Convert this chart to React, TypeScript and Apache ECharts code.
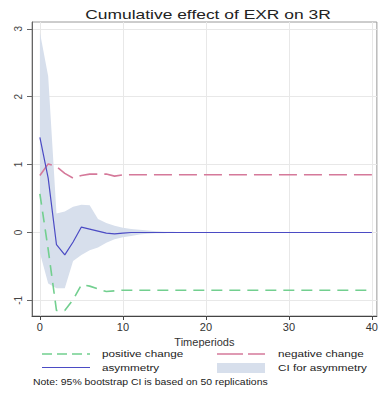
import React, { useEffect, useRef } from "react";
import * as echarts from "echarts";

const title = "Cumulative effect of EXR on 3R";
const xTitle = "Timeperiods";
const xTicks = [0, 10, 20, 30, 40];
const yTicks = [-1, 0, 1, 2, 3];

const periods = [
  0, 1, 2, 3, 4, 5, 6, 7, 8, 9, 10, 11, 12, 13, 14, 15, 16, 17, 18, 19, 20,
  21, 22, 23, 24, 25, 26, 27, 28, 29, 30, 31, 32, 33, 34, 35, 36, 37, 38, 39, 40,
];
const positiveChange = [
  0.57, -0.25, -1.15, -1.15, -0.99, -0.77, -0.79, -0.83, -0.87, -0.86, -0.85,
  -0.85, -0.85, -0.85, -0.85, -0.85, -0.85, -0.85, -0.85, -0.85, -0.85,
  -0.85, -0.85, -0.85, -0.85, -0.85, -0.85, -0.85, -0.85, -0.85, -0.85,
  -0.85, -0.85, -0.85, -0.85, -0.85, -0.85, -0.85, -0.85, -0.85, -0.85,
];
const negativeChange = [
  0.84, 1.01, 0.97, 0.87, 0.8, 0.84, 0.86, 0.86, 0.86, 0.83, 0.85,
  0.85, 0.85, 0.85, 0.85, 0.85, 0.85, 0.85, 0.85, 0.85, 0.85,
  0.85, 0.85, 0.85, 0.85, 0.85, 0.85, 0.85, 0.85, 0.85, 0.85,
  0.85, 0.85, 0.85, 0.85, 0.85, 0.85, 0.85, 0.85, 0.85, 0.85,
];
const asymmetry = [
  1.4, 0.8, -0.18, -0.33, -0.14, 0.08, 0.05, 0.02, -0.01, -0.02, -0.01,
  0, 0, 0, 0, 0, 0, 0, 0, 0, 0,
  0, 0, 0, 0, 0, 0, 0, 0, 0, 0,
  0, 0, 0, 0, 0, 0, 0, 0, 0, 0,
];
const ciUpper = [
  2.95, 2.3, 0.28, 0.31, 0.38, 0.41, 0.4, 0.2, 0.14, 0.1, 0.07,
  0.05, 0.04, 0.03, 0.02, 0.01, 0.01, 0.005, 0, 0, 0,
  0, 0, 0, 0, 0, 0, 0, 0, 0, 0,
  0, 0, 0, 0, 0, 0, 0, 0, 0, 0,
];
const ciLower = [
  -0.3, -0.75, -0.82, -0.82, -0.42, -0.33, -0.26, -0.22, -0.15, -0.1, -0.07,
  -0.05, -0.03, -0.02, -0.01, -0.01, 0, 0, 0, 0, 0,
  0, 0, 0, 0, 0, 0, 0, 0, 0, 0,
  0, 0, 0, 0, 0, 0, 0, 0, 0, 0,
];

const GREEN = "#72cf8f";
const PINK = "#d5799a";
const BLUE = "#4b4bc4";
const BAND = "#d7dfec";
const FONT = "Liberation Sans, Arial, sans-serif";

export default function App() {
  const ref = useRef<HTMLDivElement>(null);
  useEffect(() => {
    if (!ref.current) return;
    const chart = echarts.init(ref.current, undefined, { renderer: "svg" });
    const pairs = (vals: number[]) => periods.map((p, i) => [p, vals[i]]);
    const bandData = periods.map((p, i) => [p, ciLower[i], ciUpper[i]]);
    chart.setOption({
      animation: false,
      backgroundColor: "#ffffff",
      grid: {
        left: 32,
        top: 22,
        right: 0,
        bottom: 87,
        show: true,
        borderColor: "#9a9a9a",
        borderWidth: 1,
        backgroundColor: "#ffffff",
      },
      xAxis: {
        type: "value",
        min: -0.95,
        max: 40.6,
        name: xTitle,
        nameLocation: "middle",
        nameGap: 19,
        nameTextStyle: { fontFamily: FONT, fontSize: 11, color: "#333" },
        axisLine: { show: true, onZero: false, lineStyle: { color: "#444", width: 1 } },
        axisTick: { show: true, length: 4, customValues: xTicks, lineStyle: { color: "#444" } },
        axisLabel: {
          customValues: xTicks,
          fontFamily: FONT,
          fontSize: 11,
          color: "#333",
          margin: 5,
          showMaxLabel: true,
        },
        splitLine: { show: true, lineStyle: { color: "#e8e8e8", width: 1 } },
      },
      yAxis: {
        type: "value",
        min: -1.23,
        max: 3.1,
        axisLine: { show: true, onZero: false, lineStyle: { color: "#666", width: 1 } },
        axisTick: { show: true, length: 5, customValues: yTicks, lineStyle: { color: "#666" } },
        axisLabel: {
          customValues: yTicks,
          rotate: 90,
          fontFamily: FONT,
          fontSize: 10,
          color: "#444",
          margin: 9,
        },
        splitLine: { show: true, lineStyle: { color: "#e8e8e8", width: 1 } },
      },
      series: [
        {
          name: "CI for asymmetry",
          type: "custom",
          data: bandData,
          encode: { x: 0, y: [1, 2] },
          silent: true,
          z: 1,
          renderItem: (params: any, api: any) => {
            if (params.dataIndex !== 0) return null;
            const top = bandData.map((d) => api.coord([d[0], d[2]]));
            const bottom = bandData
              .slice()
              .reverse()
              .map((d) => api.coord([d[0], d[1]]));
            return {
              type: "polygon",
              shape: { points: top.concat(bottom) },
              style: { fill: BAND, stroke: "none" },
            };
          },
        },
        {
          name: "positive change",
          type: "line",
          data: pairs(positiveChange),
          showSymbol: false,
          symbol: "none",
          lineStyle: { color: GREEN, width: 1.6, type: [11, 7] },
          z: 3,
        },
        {
          name: "negative change",
          type: "line",
          data: pairs(negativeChange),
          showSymbol: false,
          symbol: "none",
          lineStyle: { color: PINK, width: 1.6, type: [18, 7] },
          z: 3,
        },
        {
          name: "asymmetry",
          type: "line",
          data: pairs(asymmetry),
          showSymbol: false,
          symbol: "none",
          lineStyle: { color: BLUE, width: 1.2 },
          z: 4,
        },
      ],
      graphic: [
        {
          type: "text",
          x: 208,
          y: 14,
          scaleX: 1.34,
          style: {
            text: title,
            fontFamily: FONT,
            fontSize: 13,
            fill: "#222",
            align: "center",
            verticalAlign: "middle",
          },
        },
        {
          type: "line",
          shape: { x1: 42, y1: 354, x2: 90, y2: 354 },
          style: { stroke: GREEN, lineWidth: 1.6, lineDash: [10, 5] },
        },
        {
          type: "line",
          shape: { x1: 217, y1: 354, x2: 265, y2: 354 },
          style: { stroke: PINK, lineWidth: 1.6, lineDash: [26, 5] },
        },
        {
          type: "line",
          shape: { x1: 42, y1: 367.5, x2: 90, y2: 367.5 },
          style: { stroke: BLUE, lineWidth: 1.2 },
        },
        {
          type: "rect",
          shape: { x: 217, y: 363, width: 48, height: 10 },
          style: { fill: BAND },
        },
        {
          type: "text",
          x: 102,
          y: 354,
          scaleX: 1.3,
          style: { text: "positive change", fontFamily: FONT, fontSize: 9, fill: "#222", verticalAlign: "middle" },
        },
        {
          type: "text",
          x: 278,
          y: 354,
          scaleX: 1.3,
          style: { text: "negative change", fontFamily: FONT, fontSize: 9, fill: "#222", verticalAlign: "middle" },
        },
        {
          type: "text",
          x: 102,
          y: 367.5,
          scaleX: 1.3,
          style: { text: "asymmetry", fontFamily: FONT, fontSize: 9, fill: "#222", verticalAlign: "middle" },
        },
        {
          type: "text",
          x: 278,
          y: 367.5,
          scaleX: 1.3,
          style: { text: "CI for asymmetry", fontFamily: FONT, fontSize: 9, fill: "#222", verticalAlign: "middle" },
        },
        {
          type: "text",
          x: 33,
          y: 382,
          scaleX: 1.2,
          style: {
            text: "Note: 95% bootstrap CI is based on 50 replications",
            fontFamily: FONT,
            fontSize: 8.7,
            fill: "#222",
            verticalAlign: "middle",
          },
        },
      ],
    });
    return () => chart.dispose();
  }, []);
  return (
    <div
      ref={ref}
      style={{ position: "fixed", left: 0, top: 0, width: 381, height: 403, background: "#fff" }}
    />
  );
}
